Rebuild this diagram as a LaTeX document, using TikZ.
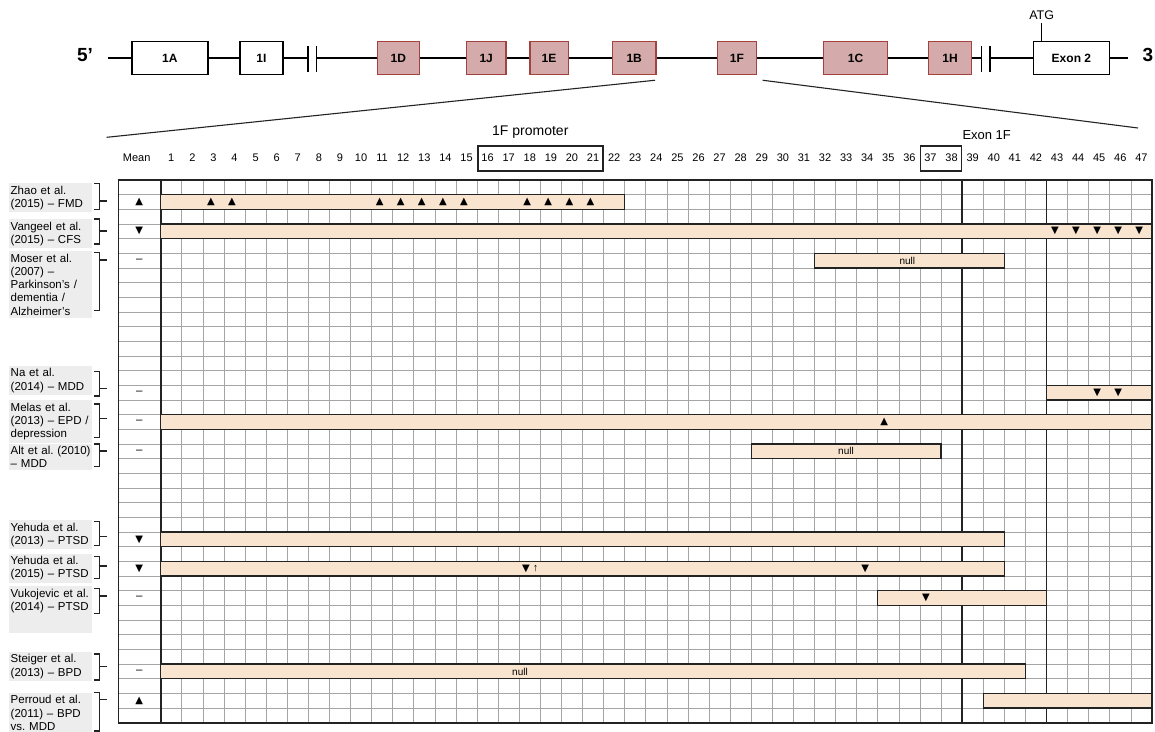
\documentclass[tikz,border=0pt]{standalone}
\usepackage{fontspec}
\setmainfont{Liberation Sans}
\newfontfamily\trifont{DejaVu Sans}
\definecolor{exonpink}{RGB}{212,171,170}
\definecolor{exonred}{RGB}{164,66,64}
\definecolor{barfill}{RGB}{248,228,207}
\definecolor{labelgray}{RGB}{237,237,237}
\definecolor{gridgray}{RGB}{165,165,165}
\definecolor{darkline}{RGB}{35,35,35}
\newcommand\fsz[1]{\fontsize{#1}{#1}\selectfont}
\def\cw{21.09}\def\rh{14.67}\def\gx{160.7}\def\gy{180}
% one methylation bar: row, first and last column boundary
\newcommand\methrow[3]{\draw[methbar]({\gx+#2*\cw},{\gy+#1*\rh})rectangle({\gx+#3*\cw},{\gy+(#1+1)*\rh});}
% study label with its bracket: [opts], name, top, text, bracket top, bracket bottom, tick
\newcommand\study[7][]{%
  \node[studybox,#1](#2)at(9,#3){#4};
  \draw[bracket](94.3,#5)-|(99.5,#6)--(94.3,#6) (99.5,#7)--(107,#7);}
\begin{document}
\begin{tikzpicture}[x=1pt,y=-1pt,
    exon/.style={draw,line width=1.5pt,minimum height=33pt,inner sep=0pt,font=\bfseries\fsz{12}},
    altex/.style={exon,fill=exonpink,draw=exonred},
    minor/.style={gridgray,line width=0.6pt},
    major/.style={darkline,line width=1.6pt},
    methbar/.style={fill=barfill,draw=darkline,line width=1.4pt},
    studybox/.style={anchor=north west,fill=labelgray,text width=80pt,inner xsep=1.5pt,inner ysep=2.5pt,align=left,font=\fontsize{11.5}{13.3}\selectfont\frenchspacing},
    bracket/.style={darkline,line width=1.2pt},
    mk/.style={font=\trifont\fsz{10},inner sep=0pt},
    num/.style={font=\fsz{11},inner sep=0pt}]
\useasboundingbox(0,0)rectangle(1155,731);
% gene
\node[font=\bfseries\fsz{19}](p5)at(85,55){5’};
\node[exon,minimum width=76pt](e1A)at(169.9,58){1A};
\node[exon,minimum width=43pt](e1I)at(261.4,58){1I};
\node[altex,minimum width=42pt](e1D)at(398.4,58){1D};
\node[altex,minimum width=39.5pt](e1J)at(486.2,58){1J};
\node[altex,minimum width=38.5pt](e1E)at(549,58){1E};
\node[altex,minimum width=43.5pt](e1B)at(634.2,58){1B};
\node[altex,minimum width=39pt](e1F)at(736.9,58){1F};
\node[altex,minimum width=64pt](e1C)at(855.5,58){1C};
\node[altex,minimum width=43pt](e1H)at(950,58){1H};
\node[exon,minimum width=76pt](ex2)at(1071.4,58){Exon 2};
\node[font=\bfseries\fsz{19}](p3)at(1148,55){3};
\coordinate(s5)at(108,58);\coordinate(b1)at(308,58);\coordinate(b2)at(316.7,58);
\coordinate(b3)at(981.7,58);\coordinate(b4)at(990,58);\coordinate(s3)at(1128,58);
\draw[line width=1.5pt](s5)--(e1A)--(e1I)--(b1) (b2)--(e1D)--(e1J)--(e1E)--(e1B)--(e1F)--(e1C)--(e1H)--(b3) (b4)--(ex2)--(s3);
\foreach \b in {b1,b2,b3,b4}\draw[line width=1.5pt]([yshift=12pt]\b)--([yshift=-13.7pt]\b);
\node[font=\fsz{12.5}](atg)at(1041.7,15){ATG};
\draw[line width=1.5pt](atg.south)--(atg.south|-ex2.north);
\coordinate(fl)at(106.7,137.3);\coordinate(fr)at(1138,128);
\draw[darkline,line width=1.1pt]([xshift=-1.7pt,yshift=-5pt]e1B.south east)--(fl) ([xshift=5.5pt,yshift=-5pt]e1F.south east)--(fr);
% header
\node[font=\fsz{11}](mean)at(136.7,158){Mean};
\foreach \c in {1,...,47}\node[num](h\c)at({\gx+(\c-0.5)*\cw},158){\c};
\node[draw=darkline,line width=1.5pt,minimum width=125pt,minimum height=25.2pt,inner sep=0pt](prom)at({\gx+18*\cw},158.4){};
\node[font=\fsz{14}](promlab)at(530.3,132.3){1F promoter};
\node[draw=darkline,line width=1.5pt,minimum width=40.6pt,minimum height=25.2pt,inner sep=0pt](ex1F)at({\gx+37*\cw},158.4){};
\node[font=\fsz{13}](ex1Flab)at(986.7,135){Exon 1F};
% grid
\foreach \c in {1,...,46}\draw[minor]({\gx+\c*\cw},\gy)--({\gx+\c*\cw},{\gy+37*\rh});
\foreach \r in {1,...,36}\draw[minor](118.3,{\gy+\r*\rh})--({\gx+47*\cw},{\gy+\r*\rh});
\draw[major](118.3,\gy)rectangle({\gx+47*\cw},{\gy+37*\rh});
\foreach \c in {0,38,42}\draw[major]({\gx+\c*\cw},\gy)--({\gx+\c*\cw},{\gy+37*\rh});
% bars
\methrow{1}{0}{22}\methrow{3}{0}{47}\methrow{5}{31}{40}\methrow{14}{42}{47}
\methrow{16}{0}{47}\methrow{18}{28}{37}\methrow{24}{0}{40}\methrow{26}{0}{40}
\methrow{28}{34}{42}\methrow{33}{0}{41}\methrow{35}{39}{47}
\node[font=\fsz{10}](null5)at({\gx+35.4*\cw},{\gy+5.5*\rh}){null};
\node[font=\fsz{10}](null18)at(846,{\gy+18.5*\rh}){null};
\node[font=\fsz{10}](null33)at(520,{\gy+33.5*\rh}){null};
% sites
\foreach \c in {3,4,11,12,13,14,15,18,19,20,21}\node[mk](z\c)at({\gx+(\c-0.62)*\cw},{\gy+1.5*\rh}){▲};
\foreach \c in {43,...,47}\node[mk](v\c)at({\gx+(\c-0.6)*\cw},{\gy+3.5*\rh}){▼};
\foreach \c in {45,46}\node[mk](na\c)at({\gx+(\c-0.6)*\cw},{\gy+14.5*\rh}){▼};
\node[mk](me35)at({\gx+34.3*\cw},{\gy+16.5*\rh}){▲};
\node[mk](y18)at(526,{\gy+26.5*\rh}){▼};
\node[font=\fsz{11},inner sep=0pt](y18up)at(535.5,{\gy+26.5*\rh}){↑};
\node[mk](y34)at({\gx+33.4*\cw},{\gy+26.5*\rh}){▼};
\node[mk](vu37)at(926,{\gy+28.5*\rh}){▼};
% mean
\foreach \r/\s in {1/▲,3/▼,24/▼,26/▼,35/▲}\node[mk](m\r)at(139.3,{\gy+(\r+0.5)*\rh}){\s};
\foreach \r in {5,14,16,18,28,33}\node[font=\fsz{11.5},inner sep=0pt](m\r)at(139.3,{\gy+(\r+0.5)*\rh}){–};
% studies
\study{zhao}{183}{Zhao et al.\\(2015) – FMD}{183.3}{209.3}{201}
\study{vangeel}{219}{Vangeel et al.\\(2015) – CFS}{219}{244}{231}
\study{moser}{251}{Moser et al.\\(2007) –\\Parkinson’s /\\dementia /\\Alzheimer’s}{252.7}{310.7}{260}
\study{na}{365.7}{Na et al.\\(2014) – MDD}{371.7}{396}{388.3}
\study{melas}{400}{Melas et al.\\(2013) – EPD /\\depression}{404}{437.3}{418.3}
\study{alt}{443.3}{Alt et al. (2010)\\– MDD}{444}{466.7}{451}
\study{yehudaA}{520}{Yehuda et al.\\(2013) – PTSD}{521.7}{545.7}{536.7}
\study{yehudaB}{553.5}{Yehuda et al.\\(2015) – PTSD}{556.7}{578.3}{566}
\study[text depth=33pt]{vukojevic}{586}{Vukojevic et al.\\(2014) – PTSD}{588.3}{613.3}{596}
\study{steiger}{651.7}{Steiger et al.\\(2013) – BPD}{654}{680}{666.7}
\study{perroud}{692.7}{Perroud et al.\\(2011) – BPD\\vs. MDD}{692.7}{731}{699.3}
\end{tikzpicture}
\end{document}
